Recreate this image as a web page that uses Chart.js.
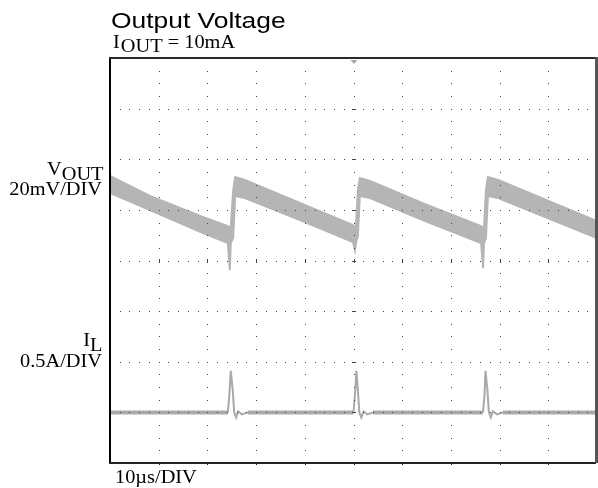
<!DOCTYPE html>
<html>
<head>
<meta charset="utf-8">
<script src="https://cdn.jsdelivr.net/npm/chart.js@4.4.1/dist/chart.umd.min.js"></script>
<style>
  html, body { margin: 0; padding: 0; background: #fff; }
  #wrap { width: 598px; height: 488px; position: relative; }
</style>
</head>
<body>
<div id="wrap"><canvas id="scope"></canvas></div>
<script>
// ---- scope trace data ----
// V_OUT band, AC coupled, mV (20mV/DIV, 0 = screen centre)
const voutTime = [0, 8.2, 18.5, 24.2, 24.6, 24.8, 25.3, 25.7, 27.7, 39.0, 49.9, 50.3, 50.5, 50.9, 51.3, 53.4, 64.7, 76.2, 76.6, 76.8, 77.2, 77.6, 79.7, 100];
const voutHigh = [33.4, 25.5, 17.6, 13.6, 12.8, 13.6, 27.9, 33.0, 31.8, 22.7, 14.0, 13.2, 13.6, 27.9, 32.6, 31.4, 22.3, 13.6, 12.8, 13.6, 27.9, 33.0, 31.8, 15.6];
const voutLow  = [26.7, 19.9, 11.3, 6.9, -3.8, 6.9, 8.9, 25.5, 24.7, 16.0, 7.3, 4.1, 6.9, 9.7, 25.5, 24.7, 15.6, 6.9, -3.0, 6.9, 8.9, 25.5, 24.7, 8.9];

// inductor current I_L, A (0.5A/DIV, 0 A one division above bottom)
const ilTime = [0, 24.2, 24.5, 24.8, 25.2, 25.5, 25.9, 26.3, 27.1, 28.3, 50.0, 50.3, 50.6, 50.9, 51.2, 51.6, 52.1, 52.8, 54.0, 76.6, 76.9, 77.1, 77.5, 77.8, 78.2, 78.6, 79.5, 80.7, 100];
const ilAmps = [0, 0, 0.17, 0.41, 0.22, 0, -0.05, 0.01, -0.02, 0, 0, 0.17, 0.41, 0.22, 0, -0.05, 0.01, -0.02, 0, 0, 0.17, 0.41, 0.22, 0, -0.05, 0.01, -0.02, 0, 0];

// screen divisions
const xDivs = [0, 10, 20, 30, 40, 50, 60, 70, 80, 90, 100];      // us, 10us/DIV
const yDivs = [-80, -60, -40, -20, 0, 20, 40, 60, 80];           // mV, 20mV/DIV

const TRACE = '#b5b5b5';
const GRIDDOT = '#444';

const scopeGrid = {
    id: 'scopeGrid',
    afterDatasetsDraw(chart) {
        const { ctx, chartArea: a } = chart;
        const xs = chart.scales.x, ys = chart.scales.yV;
        ctx.save();
        ctx.fillStyle = GRIDDOT;
        // horizontal dotted lines, dot every 1/5 div
        yDivs.slice(1, -1).forEach(v => {
            const py = Math.round(ys.getPixelForValue(v));
            for (let t = 0; t <= 100; t += 2) {
                ctx.fillRect(Math.round(xs.getPixelForValue(t)), py, 1, 1);
            }
        });
        // vertical dotted lines, dot every 1/4 div
        xDivs.slice(1, -1).forEach(t => {
            const px = Math.round(xs.getPixelForValue(t));
            for (let v = -80; v <= 80; v += 5) {
                ctx.fillRect(px, Math.round(ys.getPixelForValue(v)), 1, 1);
            }
        });
        // centre cross marks
        const cy = Math.round(ys.getPixelForValue(0));
        const cx = Math.round(xs.getPixelForValue(50));
        xDivs.slice(1, -1).forEach(t => {
            ctx.fillRect(Math.round(xs.getPixelForValue(t)), cy - 2, 1, 4);
        });
        yDivs.slice(1, -1).forEach(v => {
            ctx.fillRect(cx - 2, Math.round(ys.getPixelForValue(v)), 4, 1);
        });

        // frame
        ctx.fillStyle = '#000';
        ctx.fillRect(a.left - 1, a.top, 2, a.bottom - a.top + 1);
        ctx.fillStyle = '#222';
        ctx.fillRect(a.left - 1, a.bottom - 1, a.right - a.left, 2);
        ctx.fillStyle = '#2a2a2a';
        ctx.fillRect(a.left - 1, a.top - 1, a.right - a.left, 2);
        ctx.fillStyle = '#555';
        ctx.fillRect(a.right - 2, a.top - 1, 3, a.bottom - a.top + 1);
        // small ticks under bottom edge
        ctx.fillStyle = '#222';
        xDivs.slice(1, -1).forEach(t => {
            ctx.fillRect(Math.round(xs.getPixelForValue(t)), a.bottom, 1, 2);
        });

        // trigger marker
        ctx.fillStyle = '#a8a8a8';
        ctx.beginPath();
        ctx.moveTo(cx - 3.5, a.top + 2);
        ctx.lineTo(cx + 3.5, a.top + 2);
        ctx.lineTo(cx, a.top + 6);
        ctx.closePath();
        ctx.fill();
        ctx.restore();
    }
};

function stretchText(ctx, txt, x, y, font, sx, align) {
    ctx.save();
    ctx.font = font;
    const w = ctx.measureText(txt).width * sx;
    const left = align === 'right' ? x - w : x;
    ctx.translate(left, y);
    ctx.scale(sx, 1);
    ctx.textAlign = 'left';
    ctx.textBaseline = 'alphabetic';
    ctx.fillText(txt, 0, 0);
    ctx.restore();
    return w;
}

const scopeLabels = {
    id: 'scopeLabels',
    afterDraw(chart) {
        const ctx = chart.ctx;
        const serif = '18px "Liberation Serif", "Times New Roman", serif';
        const sans = '22px "Liberation Sans", Arial, sans-serif';
        const sx = 1.13;
        ctx.save();
        ctx.fillStyle = '#000';
        stretchText(ctx, 'Output Voltage', 111, 27.5, sans, 1.2);

        let x = 113;
        x += stretchText(ctx, 'I', x, 47.5, serif, sx);
        x += stretchText(ctx, 'OUT', x + 1, 51.7, serif, sx);
        stretchText(ctx, ' = 10mA', x + 1, 47.5, serif, sx);

        let w = stretchText(ctx, 'OUT', 103.5, 179.5, serif, sx, 'right');
        stretchText(ctx, 'V', 103.5 - w, 175, serif, sx, 'right');
        stretchText(ctx, '20mV/DIV', 102, 195, serif, sx, 'right');

        w = stretchText(ctx, 'L', 102.5, 350.5, serif, sx, 'right');
        stretchText(ctx, 'I', 102.5 - w, 346, serif, sx, 'right');
        stretchText(ctx, '0.5A/DIV', 102, 366.7, serif, sx, 'right');

        stretchText(ctx, '10\u00b5s/DIV', 115, 483, serif, sx);
        ctx.restore();
    }
};

const thin = c => (c.p0.parsed.y !== 0 || c.p1.parsed.y !== 0) ? 2 : 4;

new Chart(document.getElementById('scope'), {
    type: 'line',
    data: {
        datasets: [
            {
                label: 'VOUT high',
                data: voutTime.map((t, i) => ({ x: t, y: voutHigh[i] })),
                yAxisID: 'yV',
                borderColor: TRACE, borderWidth: 2,
                pointRadius: 0, tension: 0, fill: false,
            },
            {
                label: 'VOUT low',
                data: voutTime.map((t, i) => ({ x: t, y: voutLow[i] })),
                yAxisID: 'yV',
                borderColor: TRACE, borderWidth: 2,
                backgroundColor: TRACE,
                pointRadius: 0, tension: 0, fill: '-1',
            },
            {
                label: 'IL',
                data: ilTime.map((t, i) => ({ x: t, y: ilAmps[i] })),
                yAxisID: 'yI',
                borderColor: '#a9a9a9', borderWidth: 4,
                segment: { borderWidth: thin },
                pointRadius: 0, tension: 0, fill: false,
            },
        ]
    },
    options: {
        responsive: true, maintainAspectRatio: false, animation: false,
        layout: { padding: { left: 110, top: 58, right: 1, bottom: 25 } },
        plugins: { legend: { display: false }, tooltip: { enabled: false } },
        scales: {
            x: { type: 'linear', min: 0, max: 100, display: false },
            yV: { type: 'linear', min: -80, max: 80, display: false },
            yI: { type: 'linear', min: -0.5, max: 3.5, display: false },
        }
    },
    plugins: [scopeGrid, scopeLabels]
});
</script>
</body>
</html>
